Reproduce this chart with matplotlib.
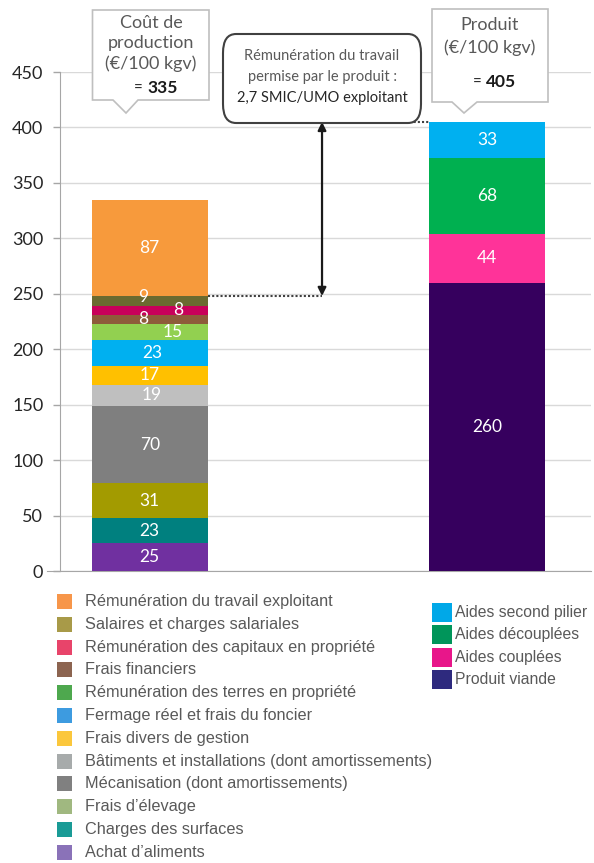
import matplotlib
matplotlib.use("Agg")
import matplotlib.pyplot as plt
from matplotlib.patches import Rectangle, FancyBboxPatch, Polygon

# ---------------- data ----------------
cost_labels = ["Achat d'aliments", "Charges des surfaces", "Frais d'élevage",
               "Mécanisation (dont amortissements)",
               "Bâtiments et installations (dont amortissements)",
               "Frais divers de gestion", "Fermage réel et frais du foncier",
               "Rémunération des terres en propriété", "Frais financiers",
               "Rémunération des capitaux en propriété",
               "Salaires et charges salariales",
               "Rémunération du travail exploitant"]
cost_values = [25, 23, 31, 70, 19, 17, 23, 15, 8, 8, 9, 87]
cost_colors = ["#7030A0", "#00807F", "#A39B00", "#7F7F7F", "#BFBFBF",
               "#FFC000", "#00B0F0", "#92D050", "#8E5B3A", "#C8005A",
               "#6B6A30", "#F79A3C"]

prod_labels = ["Produit viande", "Aides couplées", "Aides découplées",
               "Aides second pilier"]
prod_values = [260, 44, 68, 33]
prod_colors = ["#36005E", "#FF3399", "#00B050", "#00B0F0"]

cost_total = 335
prod_total = 405
labour_base = 248  # top of cost excluding farmer labour

yticks = [0, 50, 100, 150, 200, 250, 300, 350, 400, 450]

# legend (as drawn in the reference, with its own colours)
legend_left = ["Rémunération du travail exploitant",
               "Salaires et charges salariales",
               "Rémunération des capitaux en propriété",
               "Frais financiers",
               "Rémunération des terres en propriété",
               "Fermage réel et frais du foncier",
               "Frais divers de gestion",
               "Bâtiments et installations (dont amortissements)",
               "Mécanisation (dont amortissements)",
               "Frais d’élevage",
               "Charges des surfaces",
               "Achat d’aliments"]
legend_left_colors = ["#F7964A", "#A89A48", "#E8446A", "#8C6450", "#4EA84E",
                      "#3D9BE0", "#FBC73C", "#A7ABAB", "#808080", "#A0B880",
                      "#1A9B96", "#8A72B8"]
legend_right = ["Aides second pilier", "Aides découplées", "Aides couplées",
                "Produit viande"]
legend_right_colors = ["#00A8E8", "#00955A", "#E8168A", "#2E2A7E"]

# label placement tweaks (style only)
cost_label_dx = [0, 0, 0, 0, 0.007, 0, 0.007, 0.069, -0.02, 0.084, -0.02, 0]
cost_label_dy = [0, 0, 0, 0, 0, 0, 0, 0, 0, 0, 3.5, 0]

# ---------------- figure ----------------
W, H = 594, 863
fig = plt.figure(figsize=(W / 100, H / 100), dpi=100)
fig.patch.set_facecolor("white")

def fx(px):
    return px / W

def fy(py):
    return 1 - py / H

ax_left, ax_right = 60, 591
ax_top, ax_bot = 72, 571
ax = fig.add_axes([fx(ax_left), fy(ax_bot), (ax_right - ax_left) / W,
                   (ax_bot - ax_top) / H])

num_font = "Lato"
legend_font = ["Liberation Sans", "DejaVu Sans"]

bw = 0.3425
x_cost, x_prod = 0, 1
bottom = 0
for v, c, dx, dy in zip(cost_values, cost_colors, cost_label_dx, cost_label_dy):
    ax.bar(x_cost, v, bw, bottom=bottom, color=c, edgecolor="none", zorder=3)
    ax.text(x_cost + dx, bottom + v / 2 + dy, str(v), color="white",
            ha="center", va="center", fontsize=12.5, family=num_font, zorder=4)
    bottom += v
bottom = 0
for v, c in zip(prod_values, prod_colors):
    ax.bar(x_prod, v, bw, bottom=bottom, color=c, edgecolor="none", zorder=3)
    ax.text(x_prod, bottom + v / 2, str(v), color="white",
            ha="center", va="center", fontsize=12.5, family=num_font, zorder=4)
    bottom += v

ax.set_ylim(0, 450)
ax.set_xlim(-0.266, 1.308)
ax.set_yticks(yticks)
ax.set_yticklabels([str(t) for t in yticks], family=num_font, fontsize=13,
                   color="#262626")
ax.set_xticks([])
ax.tick_params(axis="y", length=5, width=1, color="#A6A6A6", pad=7)
for s in ["top", "right"]:
    ax.spines[s].set_visible(False)
ax.spines["left"].set_color("#A6A6A6")
ax.spines["bottom"].set_color("#A6A6A6")
ax.spines["bottom"].set_bounds(-0.305, 1.308)
ax.grid(axis="y", color="#D9D9D9", linewidth=1, zorder=0)
ax.set_axisbelow(True)

# dotted guide lines and arrow
xa = 0.5107
ax.plot([x_cost + bw / 2, xa], [labour_base, labour_base], ls=(0, (1, 1)),
        color="#404040", lw=1.5, zorder=5)
ax.plot([xa, x_prod - bw / 2], [prod_total, prod_total], ls=(0, (1, 1)),
        color="#404040", lw=1.5, zorder=5)
ax.annotate("", xy=(xa, prod_total), xytext=(xa, labour_base),
            arrowprops=dict(arrowstyle="<|-|>", color="#1a1a1a", lw=1.6,
                            mutation_scale=12, shrinkA=0, shrinkB=0),
            zorder=6)

# ---------------- callouts ----------------
def callout(x0, x1, y0, y1, px0, px1, tipx, tipy):
    pts = [(x0, y0), (x1, y0), (x1, y1), (px1, y1), (tipx, tipy), (px0, y1),
           (x0, y1)]
    poly = Polygon([(fx(a), fy(b)) for a, b in pts], closed=True,
                   transform=fig.transFigure, facecolor="white",
                   edgecolor="#BFBFBF", lw=1.2)
    fig.add_artist(poly)

txtc = "#595959"
callout(92.5, 209, 10, 100, 113, 138, 126, 113)
fig.text(fx(151), fy(23), "Coût de", ha="center", va="center", fontsize=13,
         family=num_font, color=txtc)
fig.text(fx(151), fy(43), "production", ha="center", va="center",
         fontsize=13, family=num_font, color=txtc)
fig.text(fx(151), fy(64), "(€/100 kgv)", ha="center", va="center",
         fontsize=13, family=num_font, color=txtc)
fig.text(fx(147), fy(88), "= ", ha="right", va="center", fontsize=11,
         family=num_font, color="#262626")
fig.text(fx(147), fy(88), f"{cost_total}", ha="left", va="center",
         fontsize=12.5, family=num_font, color="#1a1a1a", fontweight="bold")

callout(432, 548, 9, 102, 452, 477, 464, 113)
fig.text(fx(490), fy(25), "Produit", ha="center", va="center", fontsize=13,
         family=num_font, color=txtc)
fig.text(fx(490), fy(48), "(€/100 kgv)", ha="center", va="center",
         fontsize=13, family=num_font, color=txtc)
fig.text(fx(486), fy(82), "= ", ha="right", va="center", fontsize=11,
         family=num_font, color="#262626")
fig.text(fx(486), fy(82), f"{prod_total}", ha="left", va="center",
         fontsize=12.5, family=num_font, color="#1a1a1a", fontweight="bold")

box = FancyBboxPatch((fx(223), fy(123)), fx(421) - fx(223), fy(34) - fy(123),
                     boxstyle="round,pad=0,rounding_size=0.022",
                     transform=fig.transFigure, facecolor="white",
                     edgecolor="#404040", lw=1.5)
fig.add_artist(box)
for yy, t in [(56, "Rémunération du travail"),
              (77, "permise par le produit :"),
              (98, "2,7 SMIC/UMO exploitant")]:
    fig.text(fx(322), fy(yy), t, ha="center", va="center", fontsize=10.5,
             family=num_font, color=("#262626" if yy == 98 else txtc))

# ---------------- legend ----------------
row0, step = 601.5, 22.8
for i, (t, c) in enumerate(zip(legend_left, legend_left_colors)):
    yc = row0 + i * step
    fig.add_artist(Rectangle((fx(57), fy(yc + 7.5)), 15 / W, 15 / H,
                             transform=fig.transFigure, facecolor=c,
                             edgecolor="none"))
    fig.text(fx(85), fy(yc), t, ha="left", va="center", fontsize=11.7,
             family=legend_font, color="#595959")

rrow0, rstep = 612, 22.5
for i, (t, c) in enumerate(zip(legend_right, legend_right_colors)):
    yc = rrow0 + i * rstep
    fig.add_artist(Rectangle((fx(432), fy(yc + 9.5)), 20 / W, 19 / H,
                             transform=fig.transFigure, facecolor=c,
                             edgecolor="none"))
    fig.text(fx(455), fy(yc), t, ha="left", va="center", fontsize=11.3,
             family=legend_font, color="#595959")

fig.savefig("out.png", dpi=100, facecolor="white")
